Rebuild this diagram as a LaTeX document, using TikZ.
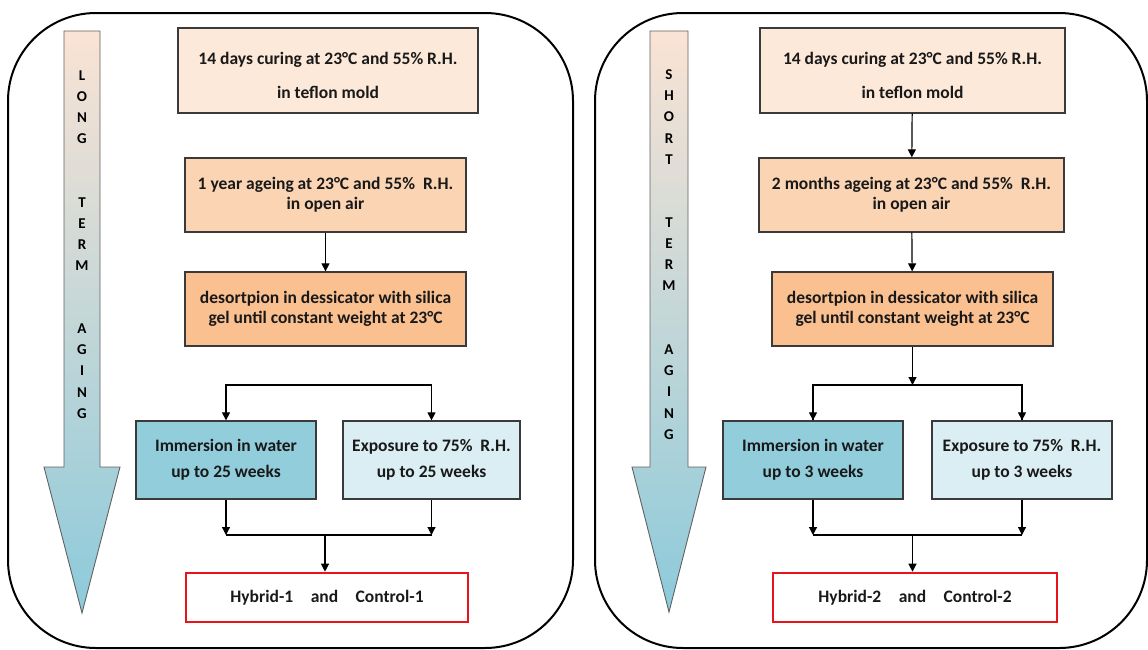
\documentclass[tikz,border=0pt]{standalone}
\usepackage{fontspec}
\setmainfont{Carlito}
\usetikzlibrary{arrows.meta,calc}
\definecolor{peachA}{HTML}{FDE9D9}
\definecolor{peachB}{HTML}{FBD4B4}
\definecolor{peachC}{HTML}{FAC090}
\definecolor{blueA}{HTML}{92CDDC}
\definecolor{blueB}{HTML}{DBEEF3}
\definecolor{edge}{HTML}{3A3A3A}
\definecolor{redbox}{HTML}{E8141B}
\definecolor{arrtop}{HTML}{FAE3D4}
\definecolor{arrbot}{HTML}{8CCADB}
\begin{document}
\begin{tikzpicture}[x=1pt,y=-1pt,
  box/.style={draw=edge,line width=1.3pt,inner sep=0pt,align=center,
    font=\fontsize{17.5}{20}\selectfont\bfseries,text=black!90},
  redframe/.style={box,draw=redbox,line width=2.6pt,fill=white},
  arr/.style={line width=1.2pt,-{Triangle[width=8pt,length=8pt]}},
  link/.style={line width=1.2pt},
  panel/.style={draw=black,line width=2pt,rounded corners=88pt},
  bigarrow/.style={draw=edge!80,line width=0.9pt,top color=arrtop,bottom color=arrbot,middle color=arrtop!50!arrbot},
  vword/.style={font=\fontsize{15}{21.2}\selectfont\bfseries,align=center,inner sep=0pt,text=black}]
\useasboundingbox (0,0) rectangle (1148,649);

% frames of the two panels
\draw[panel] (8,13) rectangle (573,648);
\draw[panel] (595,13) rectangle (1147,648);

% long term ageing arrow
\path[bigarrow] (64,31) -- (100,31) -- (100,467) -- (120,467) -- (82,613) -- (44,467) -- (64,467) -- cycle;
\node[vword] (Lw1) at (82,107) {L\\O\\N\\G};
\node[vword] (Lw2) at (82,234) {T\\E\\R\\M};
\node[vword] (Lw3) at (82,371) {A\\G\\I\\N\\G};

% short term ageing arrow
\path[bigarrow] (650,31) -- (688,31) -- (688,467) -- (706,467) -- (669,612) -- (632,467) -- (650,467) -- cycle;
\node[vword] (Rw1) at (669,117) {S\\H\\O\\R\\T};
\node[vword] (Rw2) at (669,254) {T\\E\\R\\M};
\node[vword] (Rw3) at (669,392) {A\\G\\I\\N\\G};

% long term sequence
\node[box,fill=peachA,minimum width=300pt,minimum height=85pt] (Lb1) at (328,70.5)
  {\rule{0pt}{22pt}14 days curing at 23°C and 55\% R.H.\\[14pt] in teflon mold};
\node[box,fill=peachB,minimum width=281pt,minimum height=74pt] (Lb2) at (325.5,195)
  {1 year ageing at 23°C and 55\%~ R.H.\\ in open air};
\node[box,fill=peachC,minimum width=281pt,minimum height=74pt] (Lb3) at (325.5,309)
  {desortpion in dessicator with silica\\ gel until constant weight at 23°C};
\node[box,fill=blueA,minimum width=180pt,minimum height=78pt] (Lb4) at (226,460)
  {Immersion in water\\[6pt] up to 25 weeks};
\node[box,fill=blueB,minimum width=177pt,minimum height=78pt] (Lb5) at (431.5,460)
  {Exposure to 75\%~ R.H.\\[6pt] up to 25 weeks};
\node[redframe,minimum width=282pt,minimum height=49pt] (Lb6) at (327,597.5)
  {Hybrid-1\quad and\quad Control-1};

\coordinate (Lsplit) at (325,385);
\coordinate (Lmerge) at (325,535);
\draw[arr] (Lb2) -- (Lb3);
\draw[arr] (Lsplit) -| (Lb4.north);
\draw[arr] (Lsplit) -| (Lb5.north);
\draw[arr] (Lb4.south) -- (Lb4.south |- Lmerge);
\draw[arr] (Lb5.south) -- (Lb5.south |- Lmerge);
\draw[link] (Lb4.south |- Lmerge) -- (Lb5.south |- Lmerge);
\draw[arr] (Lmerge) -- (Lmerge |- Lb6.north);

% short term sequence
\node[box,fill=peachA,minimum width=305pt,minimum height=85pt] (Rb1) at (912.5,70.5)
  {\rule{0pt}{22pt}14 days curing at 23°C and 55\% R.H.\\[14pt] in teflon mold};
\node[box,fill=peachB,minimum width=305pt,minimum height=74pt] (Rb2) at (911.5,195)
  {2 months ageing at 23°C and 55\%~ R.H.\\ in open air};
\node[box,fill=peachC,minimum width=281pt,minimum height=74pt] (Rb3) at (912.5,309)
  {desortpion in dessicator with silica\\ gel until constant weight at 23°C};
\node[box,fill=blueA,minimum width=180pt,minimum height=78pt] (Rb4) at (813,460)
  {Immersion in water\\[6pt] up to 3 weeks};
\node[box,fill=blueB,minimum width=180pt,minimum height=78pt] (Rb5) at (1022,460)
  {Exposure to 75\%~ R.H.\\[6pt] up to 3 weeks};
\node[redframe,minimum width=284pt,minimum height=49pt] (Rb6) at (915,597.5)
  {Hybrid-2\quad and\quad Control-2};

\coordinate (Rsplit) at (912.5,385);
\coordinate (Rmerge) at (912.5,535);
\draw[arr] (Rb1) -- (Rb2);
\draw[arr] (Rb2) -- (Rb3);
\draw[arr] (Rb3) -- (Rsplit);
\draw[link] (Rsplit) -| (Rb4.north);
\draw[link] (Rsplit) -| (Rb5.north);
\draw[arr] (Rsplit -| Rb4.north) -- (Rb4.north);
\draw[arr] (Rsplit -| Rb5.north) -- (Rb5.north);
\draw[arr] (Rb4.south) -- (Rb4.south |- Rmerge);
\draw[arr] (Rb5.south) -- (Rb5.south |- Rmerge);
\draw[link] (Rb4.south |- Rmerge) -- (Rb5.south |- Rmerge);
\draw[arr] (Rmerge) -- (Rmerge |- Rb6.north);
\end{tikzpicture}
\end{document}
